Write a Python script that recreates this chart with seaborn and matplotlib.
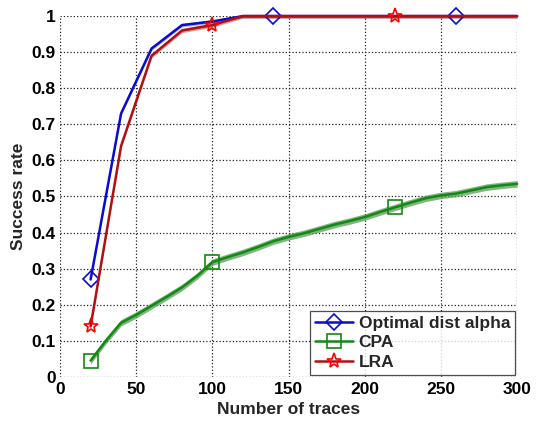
import matplotlib
matplotlib.use('Agg')
import matplotlib.pyplot as plt
import seaborn as sns
import numpy as np
import pandas as pd

sns.set_style('white')
plt.rcParams['font.family'] = ['Liberation Sans', 'DejaVu Sans']
plt.rcParams['font.weight'] = 'bold'

# data
traces = [20, 40, 60, 80, 100, 120, 140, 160, 180, 200, 220, 240, 260, 280, 300]
optimal_alpha = [0.27, 0.73, 0.91, 0.975, 0.985, 1.0, 1.0, 1.0, 1.0, 1.0, 1.0, 1.0, 1.0, 1.0, 1.0]
lra = [0.14, 0.64, 0.89, 0.96, 0.975, 1.0, 1.0, 1.0, 1.0, 1.0, 1.0, 1.0, 1.0, 1.0, 1.0]

cpa_traces = [20, 30, 40, 50, 60, 70, 80, 90, 100, 110, 120, 130, 140, 150, 160,
              170, 180, 190, 200, 210, 220, 230, 240, 250, 260, 270, 280, 290, 300]
cpa = [0.045, 0.10, 0.15, 0.172, 0.197, 0.222, 0.248, 0.28, 0.318, 0.332, 0.345,
       0.36, 0.376, 0.388, 0.398, 0.41, 0.422, 0.432, 0.443, 0.457, 0.47, 0.483,
       0.495, 0.503, 0.508, 0.517, 0.526, 0.531, 0.535]
cpa_spread = 0.009

df_opt = pd.DataFrame({'x': traces, 'y': optimal_alpha})
df_lra = pd.DataFrame({'x': traces, 'y': lra})
df_cpa = pd.DataFrame({'x': cpa_traces, 'y': cpa})

fig = plt.figure(figsize=(5.37, 4.23), dpi=100)
ax = fig.add_axes([0.112, 0.109, 0.851, 0.853])

# shaded bands around the curves
cpa_arr = np.array(cpa)
ax.fill_between(cpa_traces, cpa_arr - cpa_spread, cpa_arr + cpa_spread,
                color='#5a9a5a', alpha=0.75, lw=0)
ax.fill_between(traces, np.array(lra) - 0.006, np.array(lra) + 0.006,
                color='#a04040', alpha=0.5, lw=0)
ax.fill_between(traces, np.array(optimal_alpha) - 0.005, np.array(optimal_alpha) + 0.005,
                color='#4040a0', alpha=0.4, lw=0)

sns.lineplot(data=df_opt, x='x', y='y', ax=ax, color='#0a0ad0', lw=1.8,
             marker='D', markersize=8.5, markerfacecolor='none', markeredgecolor='#0a0ad0',
             markeredgewidth=1.2, markevery=[0, 6, 12], label='Optimal dist alpha',
             clip_on=False)
sns.lineplot(data=df_cpa, x='x', y='y', ax=ax, color='#108a10', lw=1.8,
             marker='s', markersize=9.5, markerfacecolor='none', markeredgecolor='#108a10',
             markeredgewidth=1.2, markevery=[0, 8, 20], label='CPA', clip_on=False)
sns.lineplot(data=df_lra, x='x', y='y', ax=ax, color='#b01010', lw=1.8,
             marker='*', markersize=11, markerfacecolor='none', markeredgecolor='#ff0000',
             markeredgewidth=1.2, markevery=[0, 4, 10], label='LRA', clip_on=False)

ax.set_xlim(0, 300)
ax.set_ylim(0, 1)
ax.set_xticks(range(0, 301, 50))
ax.set_yticks(np.arange(0, 1.01, 0.1))
ax.set_yticklabels(['0', '0.1', '0.2', '0.3', '0.4', '0.5', '0.6', '0.7', '0.8', '0.9', '1'])
ax.tick_params(axis='both', direction='in', length=4, width=0.8, colors='#333333',
               labelsize=12.5, labelcolor='black', pad=3)
ax.tick_params(axis='x', pad=4)
for lab in ax.get_xticklabels() + ax.get_yticklabels():
    lab.set_fontweight('bold')

ax.grid(True, ls=':', color='#222222', lw=0.9)
for s in ax.spines.values():
    s.set_visible(False)

ax.set_xlabel('Number of traces', fontsize=12.5, fontweight='bold', labelpad=3)
ax.set_ylabel('Success rate', fontsize=12.5, fontweight='bold', labelpad=4)

leg = ax.legend(loc='lower right', fontsize=12.5, frameon=True, fancybox=False,
                borderpad=0.3, labelspacing=0.25, handlelength=2.2, handletextpad=0.3,
                borderaxespad=0.1)
leg.get_frame().set_edgecolor('#222222')
leg.get_frame().set_linewidth(0.9)
for t in leg.get_texts():
    t.set_fontweight('bold')

fig.savefig('out.png', dpi=100)
